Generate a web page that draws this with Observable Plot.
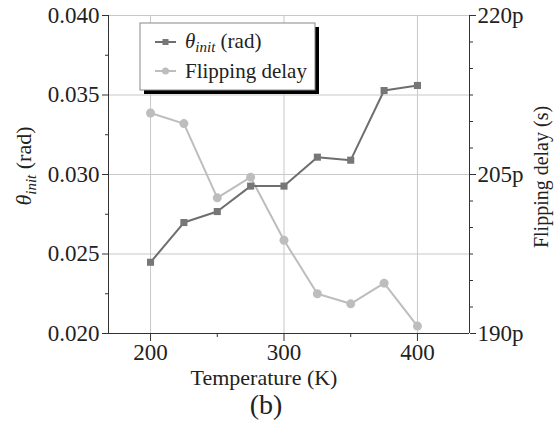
<!DOCTYPE html>
<html><head><meta charset="utf-8">
<script src="https://cdn.jsdelivr.net/npm/d3@7"></script>
<script src="https://cdn.jsdelivr.net/npm/@observablehq/plot@0.6"></script>
<style>body{margin:0;background:#fff} #chart svg text{font-family:"Liberation Serif","Times New Roman",serif !important}</style>
</head><body><div id="chart"></div>
<script>
const temps = [200, 225, 250, 275, 300, 325, 350, 375, 400];
const theta = [0.02448, 0.02698, 0.02767, 0.02927, 0.02927, 0.03109, 0.0309, 0.03528, 0.0356];
const delay = [210.8, 209.8, 202.8, 204.75, 198.8, 193.75, 192.8, 194.75, 190.7];
const xDomain = [168.5, 439];
const yDomain = [0.020, 0.040];
const rDomain = [190, 220];
const xTicks = [200, 300, 400];
const xMinor = [250, 350];
const yTicks = [0.020, 0.025, 0.030, 0.035, 0.040];
const yMinor = [0.0225, 0.0275, 0.0325, 0.0375];
const rTicks = [190, 205, 220];
const rMinor = [192.5, 195, 197.5, 200, 202.5, 207.5, 210, 212.5, 215, 217.5];
const yGrid = [0.025, 0.030, 0.035, 0.040];

const toLeft = d => yDomain[0] + (d - rDomain[0]) / (rDomain[1] - rDomain[0]) * (yDomain[1] - yDomain[0]);
const rows = temps.map((t, i) => ({t, theta: theta[i], delay: toLeft(delay[i])}));
const font = "Liberation Serif, Times New Roman, serif";

const plot = Plot.plot({
  width: 554, height: 426,
  marginLeft: 108, marginRight: 85, marginTop: 15, marginBottom: 93,
  style: {fontFamily: font, fontSize: "23px", color: "#222", background: "#fff"},
  x: {domain: xDomain},
  y: {domain: yDomain},
  marks: [
    Plot.gridX(xTicks, {stroke: "#c8c8c8", strokeOpacity: 1}),
    Plot.gridY(yGrid, {stroke: "#c8c8c8", strokeOpacity: 1}),
    Plot.ruleX([xDomain[0]], {stroke: "#333"}),
    Plot.ruleX([xDomain[1]], {stroke: "#333"}),
    Plot.ruleY([yDomain[0]], {stroke: "#333"}),
    Plot.axisX({ticks: xTicks, tickSize: 8, tickPadding: 2, label: null, fontSize: 23, stroke: "#333"}),
    Plot.axisX({ticks: xMinor, tickSize: 4, tickFormat: () => "", label: null, stroke: "#333"}),
    Plot.axisY({ticks: yTicks, tickSize: 6, tickPadding: 3, tickFormat: d3.format(".3f"), label: null, fontSize: 23, stroke: "#333"}),
    Plot.axisY({ticks: yMinor, tickSize: 3, tickFormat: () => "", label: null, stroke: "#333"}),
    Plot.axisY({anchor: "right", ticks: rTicks.map(toLeft), tickSize: 6, tickPadding: 2, tickFormat: v => Math.round(rDomain[0] + (v - yDomain[0]) / (yDomain[1] - yDomain[0]) * (rDomain[1] - rDomain[0])) + "p", label: null, fontSize: 23, stroke: "#333"}),
    Plot.axisY({anchor: "right", ticks: rMinor.map(toLeft), tickSize: 3, tickFormat: () => "", label: null, stroke: "#333"}),
    Plot.line(rows, {x: "t", y: "delay", stroke: "#bdbdbd", strokeWidth: 2}),
    Plot.dot(rows, {x: "t", y: "delay", r: 4.5, fill: "#bdbdbd", stroke: "none"}),
    Plot.line(rows, {x: "t", y: "theta", stroke: "#6e6e6e", strokeWidth: 2}),
    Plot.dot(rows, {x: "t", y: "theta", symbol: "square", r: 4, fill: "#777", stroke: "none"}),
    Plot.text(["Temperature (K)"], {frameAnchor: "bottom", dx: -25, dy: 51, fontSize: 22, fill: "#222"}),
    Plot.text(["(b)"], {frameAnchor: "bottom", dx: -23, dy: 80, fontSize: 28, fill: "#222"})
  ]
});
document.getElementById("chart").appendChild(plot);

const svg = d3.select(plot);
// left axis title
const lt = svg.append("text").attr("transform", "translate(31,166) rotate(-90)")
  .attr("text-anchor", "middle").attr("font-family", font).attr("font-size", 22).attr("fill", "#222");
lt.append("tspan").attr("font-style", "italic").text("θ");
lt.append("tspan").attr("font-style", "italic").attr("font-size", 15).attr("dy", 5).text("init");
lt.append("tspan").attr("dy", -5).text(" (rad)");
// right axis title
svg.append("text").attr("transform", "translate(548,177) rotate(-90)")
  .attr("text-anchor", "middle").attr("font-family", font).attr("font-size", 20).attr("fill", "#222")
  .text("Flipping delay (s)");
// legend
const lg = svg.append("g").attr("font-family", font).attr("fill", "#222").attr("text-anchor", "start");
lg.append("rect").attr("x", 144).attr("y", 27).attr("width", 175).attr("height", 67).attr("fill", "#000");
lg.append("rect").attr("x", 140).attr("y", 23).attr("width", 175).attr("height", 67).attr("fill", "#fff").attr("stroke", "#888").attr("stroke-width", 1);
lg.append("line").attr("x1", 155).attr("x2", 176).attr("y1", 42).attr("y2", 42).attr("stroke", "#6e6e6e").attr("stroke-width", 2);
lg.append("rect").attr("x", 162.5).attr("y", 39).attr("width", 6).attr("height", 6).attr("fill", "#777");
lg.append("line").attr("x1", 155).attr("x2", 176).attr("y1", 71).attr("y2", 71).attr("stroke", "#bdbdbd").attr("stroke-width", 2);
lg.append("circle").attr("cx", 165.5).attr("cy", 71).attr("r", 3.5).attr("fill", "#bdbdbd");
const l1 = lg.append("text").attr("x", 185).attr("y", 48).attr("font-size", 21);
l1.append("tspan").attr("font-style", "italic").text("θ");
l1.append("tspan").attr("font-style", "italic").attr("font-size", 15).attr("dy", 4).text("init");
l1.append("tspan").attr("dy", -4).text(" (rad)");
lg.append("text").attr("x", 185).attr("y", 78).attr("font-size", 21).text("Flipping delay");
</script></body></html>
